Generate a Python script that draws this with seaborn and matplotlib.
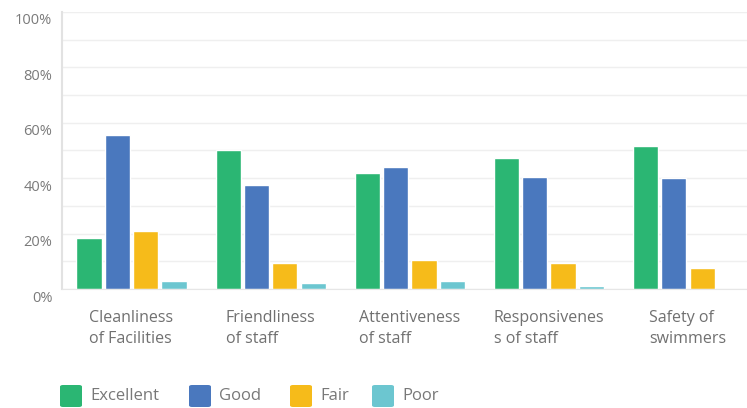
import matplotlib
matplotlib.use("Agg")
import matplotlib.pyplot as plt
import matplotlib.transforms as mtransforms
import seaborn as sns
import pandas as pd
from matplotlib.patches import FancyBboxPatch
from matplotlib.ticker import MultipleLocator, FuncFormatter

categories = [
    "Cleanliness\nof Facilities",
    "Friendliness\nof staff",
    "Attentiveness\nof staff",
    "Responsivenes\ns of staff",
    "Safety of\nswimmers",
]
ratings = ["Excellent", "Good", "Fair", "Poor"]
excellent = [18.5, 50.2, 41.8, 47.2, 51.7]
good = [55.6, 37.5, 44.2, 40.3, 40.0]
fair = [21.0, 9.3, 10.5, 9.5, 7.7]
poor = [2.9, 2.0, 2.9, 1.2, 0.0]
colors = ["#2bb673", "#4a78be", "#f6bb1a", "#6cc6d0"]

rows = []
for rating, vals in zip(ratings, [excellent, good, fair, poor]):
    for cat, v in zip(categories, vals):
        rows.append({"category": cat, "rating": rating, "value": v})
df = pd.DataFrame(rows)

sns.set_style("white")
plt.rcParams["font.family"] = ["Open Sans", "DejaVu Sans"]

fig = plt.figure(figsize=(7.47, 4.08), dpi=100)
ax = fig.add_axes([62 / 747, 119 / 408, 695.5 / 747, 277 / 408])

sns.barplot(
    data=df, x="category", y="value", hue="rating",
    hue_order=ratings, palette=colors, width=0.815, gap=0.11,
    saturation=1, ax=ax, legend=False,
)

ax.set_xlim(-0.5, 4.5)
ax.set_ylim(0, 100)
ax.yaxis.set_major_locator(MultipleLocator(20))
ax.yaxis.set_minor_locator(MultipleLocator(10))
ax.yaxis.set_major_formatter(FuncFormatter(lambda v, _: f"{v:.0f}%"))
ax.grid(True, axis="y", which="both", color="#efefef", linewidth=1)
ax.set_axisbelow(True)
ax.set_xlabel("")
ax.set_ylabel("")

for side in ["top", "right"]:
    ax.spines[side].set_visible(False)
ax.spines["left"].set_color("#e2e2e2")
ax.spines["left"].set_linewidth(1.5)
ax.spines["bottom"].set_color("#e6e6e6")

ax.tick_params(axis="y", length=0, pad=7, labelsize=10.5, labelcolor="#7a7a7a")
ax.tick_params(axis="x", length=0, pad=15, labelsize=11.5, labelcolor="#707070")
shift_down = mtransforms.ScaledTranslation(0, -1.5 / 100, fig.dpi_scale_trans)
for lbl in ax.get_yticklabels():
    lbl.set_verticalalignment("top")
    lbl.set_transform(lbl.get_transform() + shift_down)
for lbl in ax.get_xticklabels():
    lbl.set_multialignment("left")
    lbl.set_linespacing(1.4)

# legend row along the bottom
swatch_x = [60, 189, 290, 372]
for rating, color, x0 in zip(ratings, colors, swatch_x):
    fig.patches.append(FancyBboxPatch(
        (x0 / 747, (408 - 407) / 408), 22 / 747, 22 / 408,
        boxstyle="round,pad=0,rounding_size=0.004",
        transform=fig.transFigure, facecolor=color, edgecolor="none",
    ))
    fig.text((x0 + 30) / 747, (408 - 396) / 408, rating,
             fontsize=12, color="#787878", va="center", ha="left")

fig.savefig("out.png", dpi=100, facecolor="white")
